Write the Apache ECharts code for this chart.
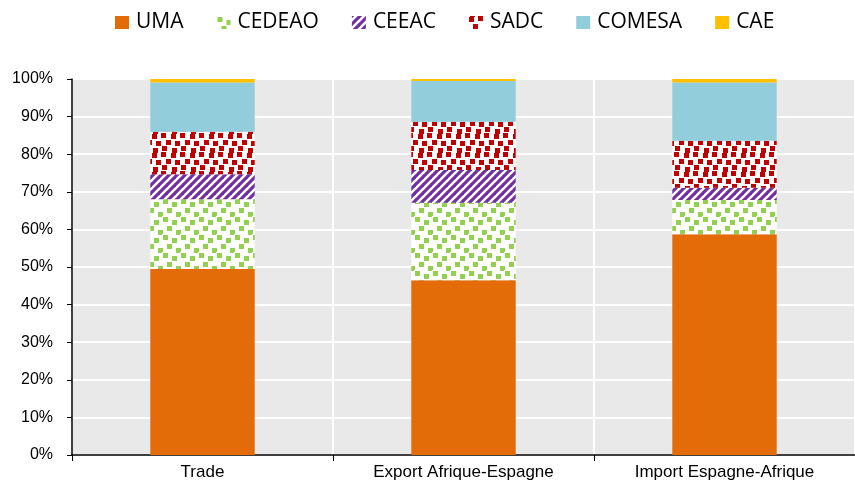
<!DOCTYPE html>
<html><head><meta charset="utf-8">
<script src="https://cdn.jsdelivr.net/npm/echarts@6/dist/echarts.min.js"></script>
<style>html,body{margin:0;padding:0;background:#fff}#c{width:855px;height:489px}</style>
</head><body><div id="c"></div>
<script>
var categories = ['Trade', 'Export Afrique-Espagne', 'Import Espagne-Afrique'];
var UMA    = [49.5, 46.5, 58.7];
var CEDEAO = [18.5, 20.6, 9.1];
var CEEAC  = [6.7, 8.7, 3.3];
var SADC   = [11.3, 12.8, 12.5];
var COMESA = [13.1, 10.9, 15.5];
var CAE    = [0.9, 0.5, 0.9];
var yTicks = ['0%','10%','20%','30%','40%','50%','60%','70%','80%','90%','100%'];

function dotPattern(color, pts, size, sq) {
  var c = document.createElement('canvas');
  c.width = size; c.height = size;
  var g = c.getContext('2d');
  g.fillStyle = '#fff'; g.fillRect(0, 0, size, size);
  g.fillStyle = color;
  pts.forEach(function (p) {
    g.fillRect(p[0], p[1], sq, sq);
    if (p[0] + sq > size) g.fillRect(p[0] - size, p[1], sq, sq);
    if (p[1] + sq > size) g.fillRect(p[0], p[1] - size, sq, sq);
  });
  return c;
}
function stripePattern(color) {
  var s = 8;
  var c = document.createElement('canvas');
  c.width = s; c.height = s;
  var g = c.getContext('2d');
  g.fillStyle = '#fff'; g.fillRect(0, 0, s, s);
  g.strokeStyle = color; g.lineWidth = 3.2;
  for (var k = -1; k <= 1; k++) {
    g.beginPath(); g.moveTo(k * s - 1, s + 1); g.lineTo(k * s + s + 1, -1); g.stroke();
  }
  return c;
}
var greenPat = dotPattern('#92d050', [[1,1],[10,4],[5,10],[14,14]], 18, 5);
var redPat = dotPattern('#c00000', [[0,1],[9,0],[14,7],[4,8],[10,13],[1,15]], 19, 5);
var purplePat = stripePattern('#7030a0');

var chart = echarts.init(document.getElementById('c'));
function s(name, data, color) {
  return { name: name, type: 'bar', stack: 'a', data: data, barWidth: '40%',
    itemStyle: { color: color } };
}
chart.setOption({
  animation: false,
  textStyle: { fontFamily: 'Liberation Sans, Arial, sans-serif' },
  legend: {
    top: 7, left: 110, itemWidth: 14, itemHeight: 13, itemGap: 33,
    icon: 'rect',
    textStyle: { fontFamily: 'Open Sans, Noto Sans, sans-serif', fontSize: 21, color: '#000', padding: [0, 0, 0, 2] }
  },
  grid: { left: 72, right: 0, top: 79, bottom: 34, show: true, backgroundColor: '#e9e9e9', borderWidth: 0 },
  xAxis: {
    type: 'category', data: categories,
    axisLine: { lineStyle: { color: '#000', width: 1.5 } },
    axisTick: { show: true, length: 6, lineStyle: { color: '#000' } },
    axisLabel: { color: '#000', fontSize: 17, margin: 9 },
    splitLine: { show: true, lineStyle: { color: '#fff', width: 2 } }
  },
  yAxis: {
    type: 'value', min: 0, max: 100, interval: 10,
    axisLine: { show: true, lineStyle: { color: '#000', width: 1.5 } },
    axisTick: { show: true, length: 5, lineStyle: { color: '#000' } },
    axisLabel: { color: '#000', fontSize: 16, margin: 19,
      formatter: function (v) { return yTicks[Math.round(v / 10)]; } },
    splitLine: { show: true, lineStyle: { color: '#fff', width: 2 } }
  },
  series: [
    s('UMA', UMA, '#e36c09'),
    s('CEDEAO', CEDEAO, { image: greenPat, repeat: 'repeat' }),
    s('CEEAC', CEEAC, { image: purplePat, repeat: 'repeat' }),
    s('SADC', SADC, { image: redPat, repeat: 'repeat' }),
    s('COMESA', COMESA, '#92cddc'),
    s('CAE', CAE, '#ffc000')
  ]
});
</script></body></html>
